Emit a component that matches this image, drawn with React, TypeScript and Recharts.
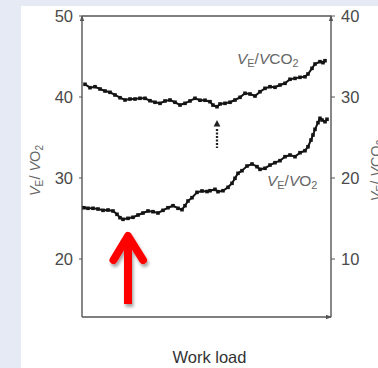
import React from 'react';
import { LineChart, Line, XAxis, YAxis, ReferenceLine, ReferenceDot, Label } from 'recharts';

// Work load (arbitrary units) and ventilatory equivalents
const workloadVCO2 = [3, 8, 13, 18, 23, 28, 33, 38, 43, 48, 53, 58, 63, 68, 73, 78, 83, 88, 93, 98, 103, 108, 113, 118, 123,
  128, 131, 135, 138, 143, 148, 153, 158, 163, 168, 173, 178, 183, 188, 193, 198, 203, 208, 213, 218, 223, 226, 230, 233, 238, 241, 243];
const veVCO2 = [31.57, 31.15, 31.27, 30.99, 30.74, 30.58, 30.25, 29.91, 29.63, 29.75, 29.75, 29.84, 29.84, 29.54, 29.35, 29.22, 29.51,
  29.63, 29.35, 29.01, 29.22, 29.51, 29.84, 29.6, 29.6, 29.42, 29.0, 28.8, 29.14, 29.22, 29.35, 29.63, 29.96, 30.46, 30.37, 30.12,
  30.65, 31.07, 31.27, 31.2, 31.48, 31.69, 32.19, 32.3, 32.43, 32.5, 32.84, 33.54, 34.07, 34.36, 34.24, 34.48];

const workloadVO2 = [2, 6, 11, 16, 21, 26, 31, 35, 38, 41, 46, 51, 56, 61, 66, 71, 76, 81, 86, 91, 96, 100, 103, 106, 110, 115, 120,
  125, 128, 133, 136, 141, 146, 150, 153, 156, 160, 165, 170, 175, 178, 183, 188, 193, 198, 203, 208, 213, 218, 223, 226, 229, 231,
  233, 236, 238, 240, 243, 245];
const veVO2 = [26.33, 26.26, 26.26, 26.17, 26.01, 26.05, 25.93, 25.52, 25.1, 24.9, 25.02, 25.15, 25.43, 25.68, 25.93, 25.84, 25.68,
  26.01, 26.33, 26.58, 26.26, 26.09, 26.58, 27.16, 27.57, 28.23, 28.4, 28.33, 28.43, 28.6, 28.31, 28.43, 28.85, 29.35, 29.96, 30.58,
  30.9, 31.48, 31.73, 31.4, 31.07, 31.2, 31.6, 31.89, 32.14, 32.63, 32.84, 32.63, 33.12, 33.37, 33.86, 34.69, 35.31, 36.01, 36.83,
  37.37, 37.16, 36.95, 37.25];

const leftTicks = [20, 30, 40, 50];
const rightTicks = [10, 20, 30, 40];
const xLabel = 'Work load';

// annotation anchors (data coordinates)
const redArrowTip = { w: 46, v: 22.84 };
const dottedArrowTip = { w: 135, v: 37.16 };
const vco2LabelPos = { w: 155, v: 44.07 };
const vo2LabelPos = { w: 185, v: 29.01 };

const dataVCO2 = workloadVCO2.map((w, i) => ({ w, v: veVCO2[i] }));
const dataVO2 = workloadVO2.map((w, i) => ({ w, v: veVO2[i] }));

const FONT = '"Liberation Sans", Arial, Helvetica, sans-serif';
const AXIS = '#555';

const SquareDot = (props: any) => {
  const { cx, cy, index } = props;
  if (cx == null || cy == null) return <g key={index} />;
  return <rect key={index} x={cx - 1.8} y={cy - 1.8} width={3.6} height={3.6} fill="#141414" />;
};

const VeText = ({ x, y, tail, size, space, transform, anchor }: any) => (
  <text x={x} y={y} fontSize={size} fill="#666" fontFamily={FONT} transform={transform} textAnchor={anchor || 'start'}>
    <tspan fontStyle="italic">V</tspan>
    <tspan fontSize={size * 0.7} dy={3}>E</tspan>
    <tspan dy={-3}>/{space ? '\u00a0' : ''}</tspan>
    <tspan fontStyle="italic">V</tspan>
    <tspan>{tail}</tspan>
    <tspan fontSize={size * 0.7} dy={3}>2</tspan>
  </text>
);

const RedArrow = (props: any) => {
  const { cx, cy } = props;
  return (
    <g>
      <defs>
        <filter id="arrowShadow" x="-100%" y="-50%" width="300%" height="200%">
          <feDropShadow dx="1.5" dy="3" stdDeviation="1.8" floodColor="#000" floodOpacity="0.35" />
        </filter>
      </defs>
      <g filter="url(#arrowShadow)">
        <path d={`M${cx} ${cy + 2} L${cx} ${cy + 68}`} stroke="#ff0000" strokeWidth={8} fill="none" />
        <path d={`M${cx - 14.5} ${cy + 24} L${cx} ${cy} L${cx + 15} ${cy + 24}`} stroke="#ff0000" strokeWidth={8}
          strokeLinecap="round" strokeLinejoin="round" fill="none" />
      </g>
    </g>
  );
};

const DottedArrow = (props: any) => {
  const { cx, cy } = props;
  return (
    <g>
      <path d={`M${cx} ${cy} L${cx - 3.4} ${cy + 6.5} L${cx + 3.4} ${cy + 6.5} Z`} fill="#222" />
      <path d={`M${cx} ${cy + 9} L${cx} ${cy + 28}`} stroke="#222" strokeWidth={2.3} strokeDasharray="2 1.5" />
    </g>
  );
};

const UpHead = (props: any) => {
  const { cx, cy } = props;
  return <path d={`M${cx} ${cy - 1} L${cx - 2.2} ${cy + 5} L${cx + 2.2} ${cy + 5} Z`} fill={AXIS} />;
};
const RightHead = (props: any) => {
  const { cx, cy } = props;
  return <path d={`M${cx + 1} ${cy} L${cx - 5} ${cy - 2.2} L${cx - 5} ${cy + 2.2} Z`} fill={AXIS} />;
};

const LeftAxisLabel = (props: any) => {
  const vb = props.viewBox || { x: 0, y: 16, width: 82, height: 301 };
  const x = vb.x + 40;
  const y = vb.y + vb.height / 2 + 4;
  return <VeText x={x} y={y} tail="O" size={14.5} space transform={`rotate(-90, ${x}, ${y})`} anchor="middle" />;
};

const RightAxisLabel = (props: any) => {
  const vb = props.viewBox || { x: 331, y: 16, width: 47, height: 301 };
  const x = vb.x + 50;
  const y = vb.y + vb.height / 2 + 4;
  return <VeText x={x} y={y} tail="CO" size={14.5} space transform={`rotate(-90, ${x}, ${y})`} anchor="middle" />;
};

const XAxisLabel = (props: any) => {
  const vb = props.viewBox || { x: 82, y: 317, width: 249, height: 51 };
  return (
    <text x={vb.x + vb.width / 2 + 3} y={vb.y + 46} textAnchor="middle" fontSize={16.5} fill="#333" fontFamily={FONT}>
      {xLabel}
    </text>
  );
};

export default function App() {
  const tickStyle = { fontSize: 16.5, fill: '#4a4a4a', fontFamily: FONT };
  return (
    <div style={{ position: 'absolute', left: 0, top: 0, width: 378, height: 368, background: '#e6eaf5', overflow: 'hidden' }}>
      <div style={{ position: 'absolute', left: 21, top: 6, right: 0, bottom: 0, background: '#ffffff' }} />
      <div style={{ position: 'absolute', left: 0, top: 0 }}>
        <LineChart width={378} height={368} margin={{ top: 16, right: 0, bottom: 0, left: 0 }}>
          <XAxis dataKey="w" type="number" domain={[0, 249]} allowDataOverflow tick={false} tickLine={false}
            axisLine={{ stroke: AXIS, strokeWidth: 1.4 }} height={51}>
            <Label content={<XAxisLabel />} />
          </XAxis>
          <YAxis yAxisId="left" orientation="left" type="number" domain={[12.84, 50]} allowDataOverflow ticks={leftTicks}
            width={82} tickSize={3} tickMargin={6} tick={tickStyle} axisLine={{ stroke: AXIS, strokeWidth: 1.4 }}
            tickLine={{ stroke: AXIS }}>
            <Label content={<LeftAxisLabel />} />
          </YAxis>
          <YAxis yAxisId="right" orientation="right" type="number" domain={[2.84, 40]} allowDataOverflow ticks={rightTicks}
            width={47} tickSize={4} tickMargin={6} tick={{ ...tickStyle, textAnchor: 'start' }}
            axisLine={{ stroke: AXIS, strokeWidth: 1.4 }} tickLine={{ stroke: AXIS }}>
            <Label content={<RightAxisLabel />} />
          </YAxis>
          <ReferenceLine yAxisId="left" y={50} stroke={AXIS} strokeWidth={1.4} ifOverflow="visible" />
          <Line data={dataVCO2} dataKey="v" yAxisId="right" type="linear" stroke="#141414" strokeWidth={2}
            dot={SquareDot} activeDot={false} isAnimationActive={false} />
          <Line data={dataVO2} dataKey="v" yAxisId="left" type="linear" stroke="#141414" strokeWidth={2}
            dot={SquareDot} activeDot={false} isAnimationActive={false} />
          <ReferenceDot yAxisId="left" x={0} y={50} ifOverflow="visible" shape={UpHead} />
          <ReferenceDot yAxisId="left" x={249} y={50} ifOverflow="visible" shape={UpHead} />
          <ReferenceDot yAxisId="left" x={249} y={12.84} ifOverflow="visible" shape={RightHead} />
          <ReferenceDot yAxisId="left" x={dottedArrowTip.w} y={dottedArrowTip.v} ifOverflow="visible" shape={DottedArrow} />
          <ReferenceDot yAxisId="left" x={redArrowTip.w} y={redArrowTip.v} ifOverflow="visible" shape={RedArrow} />
          <ReferenceDot yAxisId="left" x={vco2LabelPos.w} y={vco2LabelPos.v} ifOverflow="visible"
            shape={(p: any) => <VeText x={p.cx} y={p.cy} tail="CO" size={15.5} />} />
          <ReferenceDot yAxisId="left" x={vo2LabelPos.w} y={vo2LabelPos.v} ifOverflow="visible"
            shape={(p: any) => <VeText x={p.cx} y={p.cy} tail="O" size={15.5} />} />
        </LineChart>
      </div>
    </div>
  );
}
